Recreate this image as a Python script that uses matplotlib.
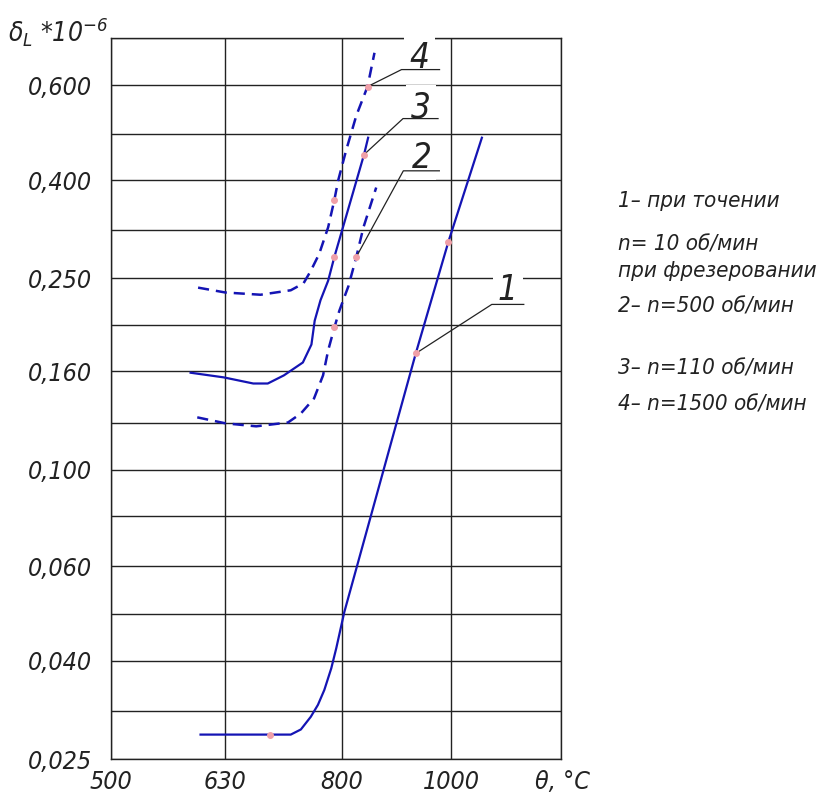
import numpy as np
import matplotlib.pyplot as plt
from matplotlib.ticker import FixedLocator, NullLocator

plt.rcParams['font.family'] = ['DejaVu Sans']
plt.rcParams['font.stretch'] = 'condensed'
plt.rcParams['font.style'] = 'italic'
plt.rcParams['lines.scale_dashes'] = False

# temperature, deg C
x_grid = [500, 630, 800, 1000, 1250]
x_labels = ['500', '630', '800', '1000', '']
# delta_L * 1e-6
y_grid = [0.025, 0.0315, 0.040, 0.050, 0.063, 0.080, 0.100, 0.125,
          0.160, 0.200, 0.250, 0.315, 0.400, 0.500, 0.630, 0.790]
y_labels = ['0,025', '', '0,040', '', '0,060', '', '0,100', '', '0,160', '',
            '0,250', '', '0,400', '', '0,600', '']

# 1 - turning (n = 10 rpm)
t1 = [600, 691, 721, 736, 751, 762, 772, 783, 791, 804, 930, 994, 1064]
d1 = [0.0281, 0.0281, 0.0281, 0.0288, 0.0306, 0.0324, 0.0348, 0.0386,
      0.0425, 0.0505, 0.1744, 0.298, 0.490]
m1_t = [691, 930, 994]
m1_d = [0.0281, 0.1744, 0.298]

# 2 - milling n = 500
t2 = [596, 631, 672, 717, 736, 756, 770, 778, 788, 796, 811, 824, 836, 858]
d2 = [0.1284, 0.1248, 0.123, 0.1253, 0.1308, 0.1406, 0.157, 0.1769,
      0.1975, 0.214, 0.241, 0.277, 0.319, 0.386]
m2_t = [788, 824]
m2_d = [0.1975, 0.277]

# 3 - milling n = 110
t3 = [588, 629, 668, 688, 711, 739, 752, 757, 766, 778, 788, 837, 844]
d3 = [0.159, 0.1555, 0.151, 0.151, 0.157, 0.167, 0.182, 0.204, 0.225,
      0.247, 0.277, 0.452, 0.490]
m3_t = [788, 837]
m3_d = [0.277, 0.452]

# 4 - milling n = 1500
t4 = [597, 631, 678, 721, 740, 751, 764, 778, 788, 794, 807, 824, 843, 855]
d4 = [0.239, 0.2335, 0.231, 0.236, 0.244, 0.259, 0.281, 0.319, 0.364,
      0.399, 0.461, 0.545, 0.626, 0.736]
m4_t = [788, 843]
m4_d = [0.364, 0.626]

numbers = ['1', '2', '3', '4']
num_at = [(m1_t[1], m1_d[1]), (m2_t[1], m2_d[1]), (m3_t[1], m3_d[1]), (m4_t[1], m4_d[1])]

legend_lines = ['1– при точении', 'n= 10 об/мин', 'при фрезеровании',
                '2– n=500 об/мин', '3– n=110 об/мин', '4– n=1500 об/мин']

W, H = 817, 797
blue = '#1414b4'
pink = '#f0a0a8'

fig = plt.figure(figsize=(W / 100, H / 100), dpi=100)
ax = fig.add_axes([111 / W, 38 / H, 450 / W, 721 / H])
ax.set_xscale('log')
ax.set_yscale('log')
ax.set_xlim(x_grid[0], x_grid[-1])
ax.set_ylim(y_grid[0], y_grid[-1])
ax.xaxis.set_major_locator(FixedLocator(x_grid))
ax.xaxis.set_minor_locator(NullLocator())
ax.yaxis.set_major_locator(FixedLocator(y_grid))
ax.yaxis.set_minor_locator(NullLocator())
ax.set_xticklabels(x_labels)
ax.set_yticklabels(y_labels)
ax.tick_params(length=0, labelsize=18, colors='#222222')
ax.tick_params(axis='x', pad=8)
ax.tick_params(axis='y', pad=14)
ax.grid(True, color='#222222', lw=1.0)
for s in ax.spines.values():
    s.set_color('#222222')
    s.set_linewidth(1.0)

ax.plot(t1, d1, color=blue, lw=1.6, zorder=3)
ax.plot(t3, d3, color=blue, lw=1.6, zorder=3)
ax.plot(t2, d2, color=blue, lw=1.8, ls=(0, (8, 5)), zorder=3)
ax.plot(t4, d4, color=blue, lw=1.8, ls=(0, (8, 5)), zorder=3)
for mt, md in [(m1_t, m1_d), (m2_t, m2_d), (m3_t, m3_d), (m4_t, m4_d)]:
    ax.plot(mt, md, 'o', ms=4, color=pink, mec=pink, zorder=6)

# leader lines with underlined numbers (offsets in pixels)
leader = [(76, 49), (47, 86), (39, 36), (34, 17)]
under = [32, 36, 35, 38]
num_off = [(92, 53), (65, 89), (57, 37), (52, 19)]
inv = ax.transData.inverted()
for num, pt, (lx, ly), ul, (nx, ny) in zip(numbers, num_at, leader, under, num_off):
    bx, by = ax.transData.transform(pt)
    pts = inv.transform(np.array([[bx, by], [bx + lx, by + ly], [bx + lx + ul, by + ly]]))
    ax.plot(pts[:, 0], pts[:, 1], color='#222222', lw=0.9, zorder=5)
    tx, ty = inv.transform((bx + nx, by + ny))
    ax.text(tx, ty, num, ha='center', va='baseline', fontsize=25, color='#222222',
            bbox=dict(boxstyle='square,pad=0.15', fc='white', ec='none'), zorder=4)

fig.text(8 / W, 1 - 42 / H, r'$\delta_L$ *10$^{-6}$', fontsize=19, color='#222222',
         ha='left', va='baseline')
fig.text(535 / W, 1 - 782 / H, 'θ, °C', fontsize=18, color='#222222',
         ha='left', va='center')

leg_y = [201, 245, 271, 306, 369, 404]
for txt, yy in zip(legend_lines, leg_y):
    fig.text(618 / W, 1 - yy / H, txt, fontsize=16, color='#222222',
             ha='left', va='center')

fig.savefig('out.png', dpi=100)
